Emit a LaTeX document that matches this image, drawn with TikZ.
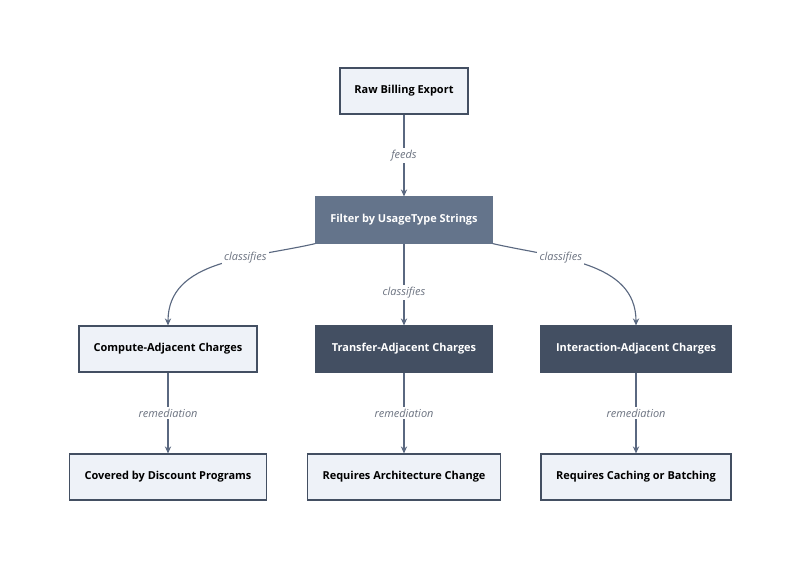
\documentclass[tikz,border=0pt]{standalone}
\usepackage{fontspec}
\setmainfont{Open Sans}
\usetikzlibrary{arrows.meta,positioning}
\definecolor{lightbox}{HTML}{EEF2F8}
\definecolor{midbox}{HTML}{64748B}
\definecolor{darkbox}{HTML}{434F62}
\definecolor{edgecol}{HTML}{5A6880}
\definecolor{labcol}{HTML}{6B7280}
\begin{document}
\begin{tikzpicture}[x=0.025cm,y=-0.025cm,
  box/.style={rectangle,draw=darkbox,line width=0.8pt,minimum height=1.15cm,
    font=\fontsize{7.8}{9}\selectfont\bfseries},
  light box/.style={box,fill=lightbox,text=black},
  filter box/.style={box,fill=midbox,draw=midbox,text=white},
  dark box/.style={box,fill=darkbox,text=white},
  edge/.style={-{Stealth[length=5pt,width=4.5pt]},draw=edgecol,line width=0.8pt},
  elabel/.style={fill=white,inner sep=1.5pt,text=labcol,font=\fontsize{7.8}{9}\selectfont\itshape}]
  \useasboundingbox (0,0) rectangle (800,570);

  \node[light box,minimum width=3.2cm] (raw) at (404,91) {Raw Billing Export};
  \node[filter box,minimum width=4.4cm] (filter) at (404,220) {Filter by UsageType Strings};

  \node[light box,minimum width=4.45cm] (compute) at (168,349) {Compute-Adjacent Charges};
  \node[dark box,minimum width=4.4cm] (transfer) at (404,349) {Transfer-Adjacent Charges};
  \node[dark box,minimum width=4.75cm] (interact) at (636,349) {Interaction-Adjacent Charges};

  \node[light box,minimum width=4.92cm] (discount) at (168,477) {Covered by Discount Programs};
  \node[light box,minimum width=4.82cm] (arch) at (404,477) {Requires Architecture Change};
  \node[light box,minimum width=4.75cm] (caching) at (636,477) {Requires Caching or Batching};

  \draw[edge] (raw) -- node[elabel] {feeds} (filter);
  \draw[edge] (filter.south west) to[out=193,in=90] node[elabel,pos=0.35] {classifies} (compute);
  \draw[edge] (filter) -- node[elabel,pos=0.6] {classifies} (transfer);
  \draw[edge] (filter.south east) to[out=-13,in=90] node[elabel,pos=0.35] {classifies} (interact);

  \draw[edge] (compute) -- node[elabel] {remediation} (discount);
  \draw[edge] (transfer) -- node[elabel] {remediation} (arch);
  \draw[edge] (interact) -- node[elabel] {remediation} (caching);
\end{tikzpicture}
\end{document}
